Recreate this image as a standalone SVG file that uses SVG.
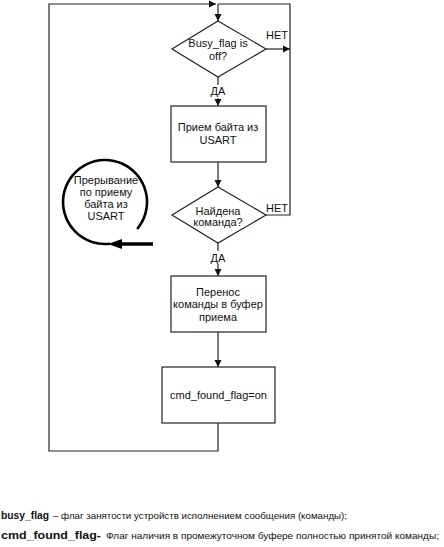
<svg xmlns="http://www.w3.org/2000/svg" width="444" height="547" viewBox="0 0 444 547">
<style>
text{font-family:"Liberation Sans",Arial,sans-serif;font-size:11px;fill:#111}
.c{text-anchor:middle}
.shape{fill:#fff;stroke:#222;stroke-width:1.2}
.line{fill:none;stroke:#222;stroke-width:1.2}
.b{font-weight:bold}
.lg{font-size:9.8px}
</style>
<defs>
<marker id="ah" markerWidth="8" markerHeight="8" refX="7" refY="4" orient="auto" markerUnits="userSpaceOnUse">
<path d="M0,0.5 L7,4 L0,7.5 Z" fill="#111"/>
</marker>
</defs>
<rect width="444" height="547" fill="#fff"/>
<g id="connectors">
<polyline class="line" points="218,423 218,451 49,451 49,4 216,4" marker-end="url(#ah)"/>
<polyline class="line" points="266,215 290,215 290,4 218,4" stroke="#555"/>
<line class="line" x1="218" y1="4" x2="218" y2="21" marker-end="url(#ah)"/>
<line class="line" x1="266" y1="49" x2="290" y2="49" marker-end="url(#ah)"/>
<line class="line" x1="218" y1="77" x2="218" y2="85"/>
<line class="line" x1="218" y1="98" x2="218" y2="106" marker-end="url(#ah)"/>
<line class="line" x1="218" y1="162" x2="218" y2="187" marker-end="url(#ah)"/>
<line class="line" x1="218" y1="243" x2="218" y2="251"/>
<line class="line" x1="218" y1="264" x2="218" y2="276" marker-end="url(#ah)"/>
<line class="line" x1="218" y1="332" x2="218" y2="367" marker-end="url(#ah)"/>
<text class="c" x="277" y="39">НЕТ</text>
<text class="c" x="218" y="95">ДА</text>
<text class="c" x="277" y="212">НЕТ</text>
<text class="c" x="218" y="262">ДА</text>
</g>
<g id="d1">
<polygon class="shape" points="218,21 266,49 218,77 172,49"/>
<text class="c" x="218" y="47">Busy_flag is</text>
<text class="c" x="218" y="60">off?</text>
</g>
<g id="box1">
<rect class="shape" x="171" y="106" width="95" height="56"/>
<text class="c" x="218" y="131">Прием байта из</text>
<text class="c" x="218" y="144">USART</text>
</g>
<g id="d2">
<polygon class="shape" points="218,187 266,215 218,243 172,215"/>
<text class="c" x="218" y="215">Найдена</text>
<text class="c" x="218" y="226">команда?</text>
</g>
<g id="box3">
<rect class="shape" x="171" y="276" width="95" height="56"/>
<text class="c" x="218" y="295.5">Перенос</text>
<text class="c" x="218" y="308">команды в буфер</text>
<text class="c" x="218" y="320.5">приема</text>
</g>
<g id="box4">
<rect class="shape" x="162" y="367" width="113" height="56"/>
<text class="c" x="218.5" y="399">cmd_found_flag=on</text>
</g>
<g id="interrupt">
<path d="M110,243.7 A42,42 0 1 1 137.2,229" fill="none" stroke="#000" stroke-width="2.6"/>
<line x1="153" y1="244" x2="118" y2="244" stroke="#000" stroke-width="3.5"/>
<polygon points="108,244 122,239 122,249" fill="#000"/>
<text class="c" x="106" y="184">Прерывание</text>
<text class="c" x="106" y="196">по приему</text>
<text class="c" x="106" y="208">байта из</text>
<text class="c" x="106" y="220">USART</text>
</g>
<g id="legend">
<text class="b" x="1" y="519" textLength="48" lengthAdjust="spacingAndGlyphs">busy_flag</text>
<text class="lg" x="53" y="519" textLength="294" lengthAdjust="spacingAndGlyphs">– флаг занятости устройств исполнением сообщения (команды);</text>
<text class="b" x="1" y="539" textLength="100" lengthAdjust="spacingAndGlyphs">cmd_found_flag-</text>
<text class="lg" x="106" y="539" textLength="333" lengthAdjust="spacingAndGlyphs">Флаг наличия в промежуточном буфере полностью принятой команды;</text>
</g>
</svg>
